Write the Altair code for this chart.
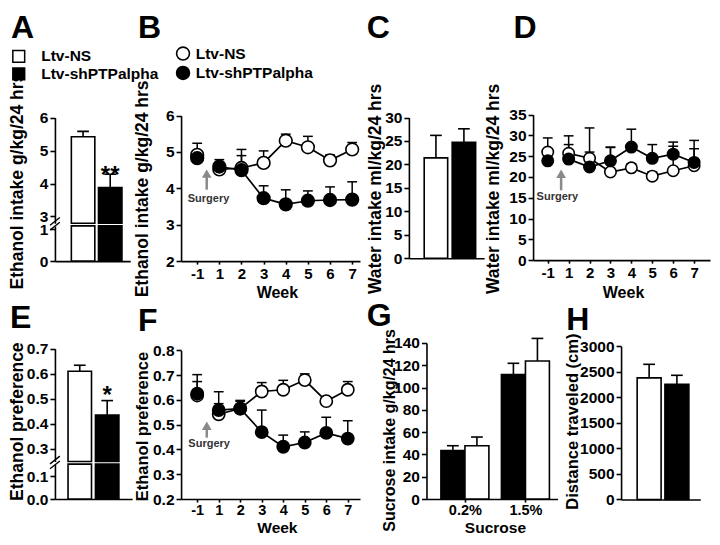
import altair as alt
import pandas as pd

W, H = 704, 529
FONT = "Liberation Sans"
LABEL_FS = 15


def px(v):
    return v * 704 / 720


def py(v):
    return -2 + 0.970 * v


groups = ["Ltv-NS", "Ltv-shPTPalpha"]
weeks = ["-1", "1", "2", "3", "4", "5", "6", "7"]
sucrose = ["0.2%", "1.5%"]

# A: ethanol intake g/kg/24 hrs (mean, SEM)
a_mean = [5.42, 3.88]
a_sem = [0.16, 0.40]
# B: weekly ethanol intake
b_ns_mean = [4.92, 4.52, 4.56, 4.70, 5.31, 5.13, 4.77, 5.07]
b_ns_sem = [0.32, 0.12, 0.51, 0.33, 0.18, 0.30, 0.15, 0.19]
b_sh_mean = [4.83, 4.60, 4.50, 3.73, 3.56, 3.66, 3.68, 3.69]
b_sh_sem = [0.20, 0.19, 0.40, 0.34, 0.40, 0.27, 0.36, 0.49]
# C: water intake
c_mean = [21.4, 24.7]
c_sem = [4.8, 2.9]
# D: weekly water intake
d_ns_mean = [26.0, 25.7, 24.5, 21.2, 22.2, 20.2, 21.5, 22.7]
d_ns_sem = [3.4, 4.2, 7.3, 5.9, 1.0, 1.0, 5.9, 4.1]
d_sh_mean = [23.9, 24.3, 22.4, 23.9, 27.2, 24.5, 25.5, 23.5]
d_sh_sem = [2.0, 3.5, 3.6, 3.3, 4.3, 3.3, 2.9, 5.3]
# E: ethanol preference
e_mean = [0.610, 0.435]
e_sem = [0.024, 0.058]
# F: weekly ethanol preference
f_ns_mean = [0.618, 0.542, 0.565, 0.634, 0.641, 0.680, 0.595, 0.641]
f_ns_sem = [0.056, 0.043, 0.029, 0.036, 0.038, 0.025, 0.010, 0.033]
f_sh_mean = [0.625, 0.559, 0.565, 0.470, 0.411, 0.428, 0.467, 0.444]
f_sh_sem = [0.077, 0.074, 0.033, 0.089, 0.047, 0.043, 0.063, 0.072]
# G: sucrose intake
g_sh_mean = [43.5, 111.6]
g_sh_sem = [4.3, 10.1]
g_ns_mean = [47.8, 123.7]
g_ns_sem = [7.8, 20.3]
# H: distance traveled (cm)
h_mean = [2380, 2253]
h_sem = [265, 177]

FILLS = {"Ltv-NS": "white", "Ltv-shPTPalpha": "black"}


# ---------- helpers ----------
def xscale(a0, a1, p0, p1, n):
    step = (p1 - p0) / (n - 1)
    d0 = (a0 - p0) / step
    d1 = (n - 1) + (a1 - p1) / step
    return alt.Scale(domain=[d0, d1], range=[px(a0), px(a1)], nice=False, zero=False)


def yscale(b, t, d0, d1, clamp=False):
    kw = dict(domain=[d0, d1], range=[py(b), py(t)], nice=False, zero=False)
    if clamp:
        kw["clamp"] = True
    return alt.Scale(**kw)


def y_axis(ax_x, values, fmt, title="", tc=None, fs=17):
    kw = dict(orient="left", offset=-px(ax_x), values=values, format=fmt, grid=False,
              labelOverlap=False, domainColor="black", domainWidth=1.6, tickColor="black",
              tickWidth=1.6, tickSize=5, labelFont=FONT, labelFontSize=15.5,
              labelFontWeight="bold", labelColor="black", labelPadding=2, title=title)
    if title:
        kw.update(titleFont=FONT, titleFontSize=fs, titleFontWeight="bold",
                  titleColor="black", titleAngle=270, titleAlign="center",
                  titleBaseline="middle", titleX=px(tc[0]) - px(ax_x), titleY=py(tc[1]))
    return alt.Axis(**kw)


def x_axis(ax_y, values=None, labels=None, title="", tc=None, lfs=15, pad=2, tfs=16):
    kw = dict(orient="bottom", offset=py(ax_y) - H, grid=False, domainColor="black",
              domainWidth=1.6, title=title)
    if values is None:
        kw.update(ticks=False, labels=False)
    else:
        expr = "[" + ",".join("'%s'" % l for l in labels) + "][datum.value]"
        kw.update(values=values, labelExpr=expr, tickColor="black", tickWidth=1.6,
                  tickSize=3, labelFont=FONT, labelFontSize=lfs, labelFontWeight="bold",
                  labelColor="black", labelPadding=pad, labelFlush=False, labelOverlap=False)
    if title:
        kw.update(titleFont=FONT, titleFontSize=tfs, titleFontWeight="bold",
                  titleColor="black", titleAlign="center", titleBaseline="middle",
                  titleX=px(tc[0]), titleY=py(tc[1]) - py(ax_y))
    return alt.Axis(**kw)


def yf(scale, axis):
    return lambda f: alt.Y(f + ":Q", scale=scale, axis=axis)


def bar_df(names, means, sems, pos):
    return pd.DataFrame({"group": names, "pos": pos, "mean": means,
                         "top": [m + s for m, s in zip(means, sems)],
                         "fill": [FILLS[n] for n in names]})


def bar_layers(df, X, Y, bar_w, cap_w=12, err=True):
    base = alt.Chart(df)
    out = []
    if err:
        out.append(base.mark_rule(color="black", strokeWidth=1.6).encode(
            x=X, y=Y("mean"), y2=alt.Y2("top")))
    out.append(base.mark_bar(size=px(bar_w), stroke="black", strokeWidth=1.6, opacity=1).encode(
        x=X, y=Y("mean"), y2=alt.datum(0), fill=alt.Fill("fill:N", scale=None)))
    if err:
        out.append(base.mark_tick(orient="horizontal", size=px(cap_w), thickness=1.6,
                                  color="black", opacity=1).encode(x=X, y=Y("top")))
    return out


def star(X, Y, pos, val, s, size):
    d = pd.DataFrame({"pos": [pos], "mean": [val]})
    return alt.Chart(d).mark_text(text=s, font=FONT, fontSize=size, fontWeight="bold",
                                  color="black", baseline="alphabetic").encode(x=X, y=Y("mean"))


def line_layers(ns_m, ns_s, sh_m, sh_s, X, Y, size, cap_w, arrow, label):
    rows = []
    for g, m, s in [(groups[0], ns_m, ns_s), (groups[1], sh_m, sh_s)]:
        for i in range(len(weeks)):
            rows.append({"group": g, "pos": i, "mean": m[i], "top": m[i] + s[i],
                         "fill": FILLS[g]})
    df = pd.DataFrame(rows)
    base = alt.Chart(df)
    err = base.mark_rule(color="black", strokeWidth=1.5).encode(
        x=X, y=Y("mean"), y2=alt.Y2("top"))
    cap = base.mark_tick(orient="horizontal", size=px(cap_w), thickness=1.5, color="black",
                         opacity=1).encode(x=X, y=Y("top"))
    line = alt.Chart(df[df["pos"] > 0]).mark_line(color="black", strokeWidth=1.7).encode(
        x=X, y=Y("mean"), detail="group:N")
    pts = base.mark_circle(size=size, stroke="black", strokeWidth=1.6, opacity=1).encode(
        x=X, y=Y("mean"), fill=alt.Fill("fill:N", scale=None))
    adf = pd.DataFrame({"pos": [arrow[0]], "mean": [arrow[1]], "top": [arrow[2]]})
    shaft = alt.Chart(adf).mark_rule(color="#8a8a8a", strokeWidth=2.5).encode(
        x=X, y=Y("mean"), y2=alt.Y2("top"))
    head = alt.Chart(adf).mark_point(shape="triangle-up", filled=True, color="#8a8a8a",
                                     size=95, opacity=1).encode(x=X, y=Y("top"))
    tdf = pd.DataFrame({"pos": [label[0]], "mean": [label[1]]})
    txt = alt.Chart(tdf).mark_text(text="Surgery", font=FONT, fontSize=11, fontWeight="bold",
                                   color="#333333", baseline="middle").encode(x=X, y=Y("mean"))
    return [err, cap, line, pts, shaft, head, txt]


panels = []

# ---------- A (broken axis) ----------
dfA = bar_df(groups, a_mean, a_sem, [0, 1])
xsA = xscale(48, 125, 75.3, 107.3, 2)
YAu = yf(yscale(224, 115, 2.794, 6, clamp=True),
         y_axis(48, [3, 4, 5, 6], "d", "Ethanol intake g/kg/24 hrs", (10, 180), 17.5))
XAu = alt.X("pos:Q", scale=xsA, axis=None)
panels.append(alt.layer(*bar_layers(dfA, XAu, YAu, 24), star(XAu, YAu, 1, 4.01, "**", 24)))
YAl = yf(yscale(263, 226.7, 0, 1.1, clamp=True), y_axis(48, [0, 1], "d"))
XAl = alt.X("pos:Q", scale=xsA, axis=x_axis(263))
panels.append(alt.layer(*bar_layers(dfA, XAl, YAl, 24, err=False)))

# ---------- B ----------
XB = alt.X("pos:Q", scale=xscale(177, 360, 193.5, 352, 8),
           axis=x_axis(263, list(range(8)), weeks, "Week", (275, 295)))
YB = yf(yscale(263, 113, 2, 6),
        y_axis(177, [2, 3, 4, 5, 6], "d", "Ethanol intake g/kg/24 hrs", (138, 188), 17.5))
panels.append(alt.layer(*line_layers(b_ns_mean, b_ns_sem, b_sh_mean, b_sh_sem, XB, YB,
                                     160, 10, (0.43, 3.965, 4.405), (0.51, 3.70))))

# ---------- C ----------
dfC = bar_df(groups, c_mean, c_sem, [0, 1])
XC = alt.X("pos:Q", scale=xscale(410, 487, 436, 469, 2), axis=x_axis(260))
YC = yf(yscale(260, 115, 0, 30),
        y_axis(410, [0, 5, 10, 15, 20, 25, 30], "d", "Water intake ml/kg/24 hrs", (376, 188), 17.5))
panels.append(alt.layer(*bar_layers(dfC, XC, YC, 24)))

# ---------- D ----------
XD = alt.X("pos:Q", scale=xscale(537, 718, 552, 701.7, 8),
           axis=x_axis(262, list(range(8)), weeks, "Week", (629, 295)))
YD = yf(yscale(262, 112, 0, 35),
        y_axis(537, [0, 5, 10, 15, 20, 25, 30, 35], "d", "Water intake ml/kg/24 hrs", (497, 188), 17.5))
panels.append(alt.layer(*line_layers(d_ns_mean, d_ns_sem, d_sh_mean, d_sh_sem, XD, YD,
                                     130, 10, (0.64, 16.8, 20.8), (0.46, 15.1))))

# ---------- E (broken axis) ----------
dfE = bar_df(groups, e_mean, e_sem, [0, 1])
xsE = xscale(48, 127, 71.3, 103.5, 2)
YEu = yf(yscale(469.6, 353.3, 0.25, 0.7, clamp=True),
         y_axis(48, [0.3, 0.4, 0.5, 0.6, 0.7], ".1f", "Ethanol preference", (10, 428), 17.5))
XEu = alt.X("pos:Q", scale=xsE, axis=None)
panels.append(alt.layer(*bar_layers(dfE, XEu, YEu, 24), star(XEu, YEu, 1, 0.483, "*", 24)))
YEl = yf(yscale(508.3, 472.3, 0, 0.1545, clamp=True), y_axis(48, [0.0, 0.1], ".1f"))
XEl = alt.X("pos:Q", scale=xsE, axis=x_axis(508.3))
panels.append(alt.layer(*bar_layers(dfE, XEl, YEl, 24, err=False)))

# ---------- F ----------
XF = alt.X("pos:Q", scale=xscale(177, 360, 193.5, 347.5, 8),
           axis=x_axis(508.3, list(range(8)), weeks, "Week", (275, 538), lfs=14.5, pad=1, tfs=15.5))
YF = yf(yscale(508.3, 355, 0.2, 0.8),
        y_axis(177, [0.2, 0.3, 0.4, 0.5, 0.6, 0.7, 0.8], ".1f", "Ethanol preference", (138, 433), 16.5))
panels.append(alt.layer(*line_layers(f_ns_mean, f_ns_sem, f_sh_mean, f_sh_sem, XF, YF,
                                     150, 10, (0.445, 0.448, 0.4955), (0.555, 0.4215))))

# ---------- G ----------
off = 13.3 / 67.0
dfG = pd.concat([
    bar_df([groups[1]] * 2, g_sh_mean, g_sh_sem, [i - off for i in range(2)]),
    bar_df([groups[0]] * 2, g_ns_mean, g_ns_sem, [i + off for i in range(2)]),
])
XG = alt.X("pos:Q", scale=xscale(428, 562, 465, 532, 2),
           axis=x_axis(508.3, [0, 1], sucrose, "Sucrose", (498, 538), lfs=14.5, pad=1, tfs=15.5))
YG = yf(yscale(508.3, 347.3, 0, 140),
        y_axis(428, [0, 20, 40, 60, 80, 100, 120, 140], "d", "Sucrose intake g/kg/24 hrs", (390, 437), 16))
panels.append(alt.layer(*bar_layers(dfG, XG, YG, 24.5)))

# ---------- H ----------
dfH = bar_df(groups, h_mean, h_sem, [0, 1])
XH = alt.X("pos:Q", scale=xscale(627, 708, 654, 686.5, 2), axis=x_axis(508.7))
YH = yf(yscale(508.7, 350.7, 0, 3000),
        y_axis(627, [0, 500, 1000, 1500, 2000, 2500, 3000], "d", "Distance traveled (cm)", (577, 428), 16.5))
panels.append(alt.layer(*bar_layers(dfH, XH, YH, 24.5)))

# ---------- decorations ----------
one = pd.DataFrame({"k": [0]})


def txt(s, x, y, size, align="left", baseline="alphabetic"):
    return alt.Chart(one).mark_text(text=s, font=FONT, fontSize=size, fontWeight="bold",
                                    align=align, baseline=baseline, color="black").encode(
        x=alt.value(px(x)), y=alt.value(py(y)))


def seg(x1, y1, x2, y2):
    return alt.Chart(one).mark_rule(color="black", strokeWidth=1.4).encode(
        x=alt.value(px(x1)), y=alt.value(py(y1)), x2=alt.value(px(x2)), y2=alt.value(py(y2)))


deco = []
for letter, x, y in [("A", 3, 32.5), ("B", 133, 32.5), ("C", 367, 32.5), ("D", 517, 32.5),
                     ("E", 2, 332), ("F", 133, 335), ("G", 367, 330), ("H", 571, 334)]:
    deco.append(txt(letter, x, y, 32))

for fill, y in [("white", 52), ("black", 70)]:
    deco.append(alt.Chart(one).mark_square(size=140, fill=fill, stroke="black", strokeWidth=1.5,
                                           opacity=1).encode(x=alt.value(px(11)), y=alt.value(py(y))))
deco.append(txt(groups[0], 34, 52, 15.5, baseline="middle"))
deco.append(txt(groups[1], 34, 70, 15.5, baseline="middle"))
for fill, y in [("white", 49), ("black", 69)]:
    deco.append(alt.Chart(one).mark_circle(size=165, fill=fill, stroke="black", strokeWidth=1.6,
                                           opacity=1).encode(x=alt.value(px(179)), y=alt.value(py(y))))
deco.append(txt(groups[0], 192, 49, 15.5, baseline="middle"))
deco.append(txt(groups[1], 192, 69, 15.5, baseline="middle"))
# axis-break marks
for yc in (224, 470):
    deco.append(seg(43, yc + 2, 53, yc - 6))
    deco.append(seg(43, yc + 7, 53, yc - 1))

chart = alt.layer(*panels, *deco).resolve_scale(
    x="independent", y="independent"
).properties(
    width=W, height=H, padding=0, autosize=alt.AutoSizeParams(type="none")
).configure_view(strokeWidth=0)

chart.save("out.html", embed_options={"renderer": "svg", "actions": False})
